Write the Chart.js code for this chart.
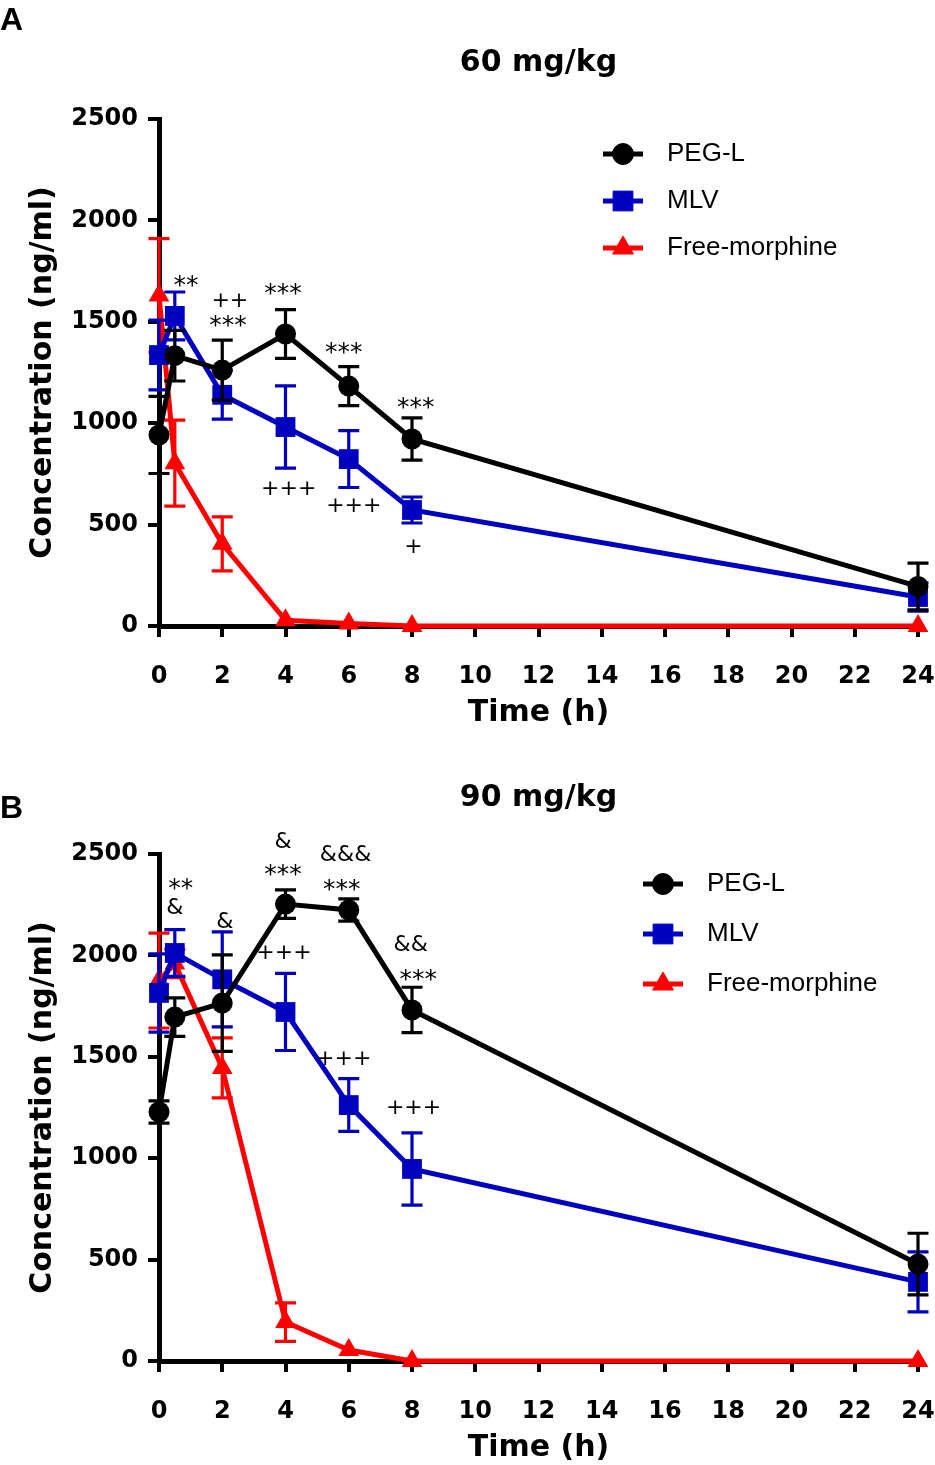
<!DOCTYPE html>
<html>
<head>
<meta charset="utf-8">
<script src="https://cdn.jsdelivr.net/npm/chart.js@4"></script>
<style>
  html, body { margin: 0; padding: 0; background: #fff; overflow: hidden; }
  .panel { position: relative; width: 935px; height: 735px; }
  .letter { position: absolute; left: 0; font: bold 32px "Liberation Sans", Arial, sans-serif; line-height: 1; }
  canvas { display: block; }
</style>
</head>
<body>
<div class="panel"><div class="letter" style="top:3px">A</div><canvas id="chartA" width="935" height="735"></canvas></div>
<div class="panel"><div class="letter" style="top:56px">B</div><canvas id="chartB" width="935" height="735"></canvas></div>
<script>
// sampling times (h)
const times = [0, 0.5, 2, 4, 6, 8, 24];

// 60 mg/kg, mean and error
const pegA = [942, 1333, 1262, 1440, 1183, 922, 195];
const pegAErr = [190, 125, 148, 120, 96, 104, 115];
const mlvA = [1336, 1529, 1140, 981, 823, 572, 143];
const mlvAErr = [172, 118, 120, 203, 140, 64, 70];
const freeA = [1630, 803, 405, 28, 12, 0, 0];
const freeAErr = [280, 212, 133, 0, 0, 0, 0];

// 90 mg/kg
const pegB = [1228, 1696, 1765, 2253, 2224, 1731, 478];
const pegBErr = [55, 95, 238, 70, 55, 112, 152];
const mlvB = [1815, 2012, 1882, 1721, 1262, 947, 390];
const mlvBErr = [193, 115, 234, 190, 130, 178, 148];
const freeB = [1876, 1960, 1445, 192, 54, 0, 0];
const freeBErr = [234, 70, 148, 95, 0, 0, 0];

// significance marks
const annoAX = [0.85, 2.24, 2.18, 3.92, 4.1, 5.84, 6.16, 8.12, 8.05];
const annoAY = [1711, 1607, 1514, 1672, 680, 1381, 597, 1109, 394];
const annoAText = ['**', '++', '***', '***', '+++', '***', '+++', '***', '+'];

const annoBX = [0.69, 0.5, 2.08, 3.92, 3.92, 5.9, 5.78, 3.95, 7.96, 8.2, 5.84, 8.05];
const annoBY = [2362, 2244, 2175, 2569, 2431, 2505, 2357, 2017, 2061, 1913, 1494, 1252];
const annoBText = ['**', '&', '&', '&', '***', '&&&', '***', '+++', '&&', '***', '+++', '+++'];

const xTicks = [0, 2, 4, 6, 8, 10, 12, 14, 16, 18, 20, 22, 24];

const BLACK = '#000000';
const BLUE = '#0000c0';
const RED = '#ff0000';

function pts(vals) {
  return times.map((t, i) => ({ x: t, y: vals[i] }));
}

// error bars, drawn under each dataset's own line/markers
const errorBars = {
  id: 'errorBars',
  beforeDatasetDraw(chart, args) {
    const ds = chart.data.datasets[args.index];
    if (!ds.errors) return;
    const { ctx } = chart;
    const x = chart.scales.x, y = chart.scales.y;
    ctx.save();
    ctx.strokeStyle = ds.borderColor;
    ctx.lineWidth = 3.2;
    ds.data.forEach((p, i) => {
      const e = ds.errors[i];
      if (!e) return;
      const px = x.getPixelForValue(p.x);
      const top = y.getPixelForValue(p.y + e);
      const bot = y.getPixelForValue(p.y - e);
      ctx.beginPath();
      ctx.moveTo(px, top); ctx.lineTo(px, bot);
      ctx.moveTo(px - 10.5, top); ctx.lineTo(px + 10.5, top);
      ctx.moveTo(px - 10.5, bot); ctx.lineTo(px + 10.5, bot);
      ctx.stroke();
    });
    ctx.restore();
  }
};

// legend with a line through the marker, like the original
const sideLegend = {
  id: 'sideLegend',
  afterDraw(chart, args, opts) {
    const { ctx } = chart;
    ctx.save();
    chart.data.datasets.forEach((ds, i) => {
      const yy = opts.y + i * opts.gap;
      ctx.strokeStyle = ds.borderColor;
      ctx.lineWidth = 5;
      ctx.beginPath();
      ctx.moveTo(opts.x, yy);
      ctx.lineTo(opts.x + 40, yy);
      ctx.stroke();
      ctx.fillStyle = ds.borderColor;
      ctx.lineWidth = 1;
      Chart.helpers.drawPoint(ctx, { pointStyle: ds.pointStyle, radius: ds.pointRadius, rotation: 0, borderWidth: 1 }, opts.x + 20, yy);
      ctx.fillStyle = '#000';
      ctx.font = '26px "Liberation Sans", Arial, sans-serif';
      ctx.textBaseline = 'middle';
      ctx.textAlign = 'left';
      ctx.fillText(ds.label, opts.textX, yy);
    });
    ctx.restore();
  }
};

// star / plus / ampersand marks placed in data coordinates
const marks = {
  id: 'marks',
  afterDatasetsDraw(chart, args, opts) {
    const { ctx } = chart;
    const x = chart.scales.x, y = chart.scales.y;
    ctx.save();
    ctx.fillStyle = '#000';
    ctx.textAlign = 'center';
    ctx.textBaseline = 'alphabetic';
    opts.text.forEach((s, i) => {
      // stars a bit larger, then lift to glyph centre
      const size = s[0] === '*' ? 25 : 22;
      let lift = 0.33;
      if (s[0] === '*') lift = 0.55;
      if (s[0] === '&') lift = 0.36;
      ctx.font = size + 'px "DejaVu Sans", sans-serif';
      ctx.fillText(s, x.getPixelForValue(opts.xs[i]), y.getPixelForValue(opts.ys[i]) + lift * size);
    });
    ctx.restore();
  }
};

const tickFont = { family: 'DejaVu Sans', size: 24, weight: 'bold' };
const titleFont = { family: 'DejaVu Sans', size: 30, weight: 'bold' };

function makeChart(id, title, peg, pegErr, mlv, mlvErr, free, freeErr, ax, ay, at, legend) {
  return new Chart(document.getElementById(id), {
    type: 'line',
    data: {
      datasets: [
        {
          label: 'PEG-L',
          data: pts(peg),
          errors: pegErr,
          borderColor: BLACK,
          backgroundColor: BLACK,
          borderWidth: 5,
          pointStyle: 'circle',
          pointRadius: 10.5,
          pointBorderWidth: 0,
          clip: false
        },
        {
          label: 'MLV',
          data: pts(mlv),
          errors: mlvErr,
          borderColor: BLUE,
          backgroundColor: BLUE,
          borderWidth: 5,
          pointStyle: 'rect',
          pointRadius: 14,
          pointBorderWidth: 0,
          clip: false
        },
        {
          label: 'Free-morphine',
          data: pts(free),
          errors: freeErr,
          borderColor: RED,
          backgroundColor: RED,
          borderWidth: 5,
          pointStyle: 'triangle',
          pointRadius: 12,
          pointBorderWidth: 0,
          clip: false
        }
      ]
    },
    options: {
      responsive: false,
      devicePixelRatio: 1,
      animation: false,
      layout: { padding: { top: 0, right: 17, bottom: 0, left: 0 } },
      plugins: {
        legend: { display: false },
        tooltip: { enabled: false },
        title: {
          display: true,
          text: title,
          fullSize: false,
          color: '#000',
          font: titleFont,
          padding: { top: 45, bottom: 38 }
        },
        sideLegend: legend,
        marks: { xs: ax, ys: ay, text: at }
      },
      scales: {
        x: {
          type: 'linear',
          min: 0,
          max: 24,
          afterBuildTicks: (s) => { s.ticks = xTicks.map(v => ({ value: v })); },
          afterFit: (s) => { s.height = 109; s.paddingLeft = 0; s.paddingRight = 0; },
          ticks: { color: '#000', font: tickFont, padding: 25, maxRotation: 0 },
          grid: { drawOnChartArea: false, drawTicks: true, tickLength: 11, lineWidth: 4, color: '#000' },
          border: { display: true, color: '#000', width: 5 },
          title: { display: true, text: 'Time (h)', color: '#000', font: titleFont, padding: { top: 0, bottom: 4 } }
        },
        y: {
          type: 'linear',
          min: 0,
          max: 2500,
          afterFit: (s) => { s.width = 159; s.paddingTop = 0; s.paddingBottom = 0; },
          ticks: { stepSize: 500, color: '#000', font: tickFont, padding: 10, callback: (v) => String(v) },
          grid: { drawOnChartArea: false, drawTicks: true, tickLength: 11, lineWidth: 4, color: '#000' },
          border: { display: true, color: '#000', width: 5 },
          title: { display: true, text: 'Concentration (ng/ml)', color: '#000', font: titleFont, padding: { top: 25, bottom: 0 } }
        }
      }
    },
    plugins: [errorBars, sideLegend, marks]
  });
}

makeChart('chartA', '60 mg/kg', pegA, pegAErr, mlvA, mlvAErr, freeA, freeAErr,
  annoAX, annoAY, annoAText, { x: 603, textX: 667, y: 154, gap: 47 });
makeChart('chartB', '90 mg/kg', pegB, pegBErr, mlvB, mlvBErr, freeB, freeBErr,
  annoBX, annoBY, annoBText, { x: 643, textX: 707, y: 149, gap: 50 });
</script>
</body>
</html>
